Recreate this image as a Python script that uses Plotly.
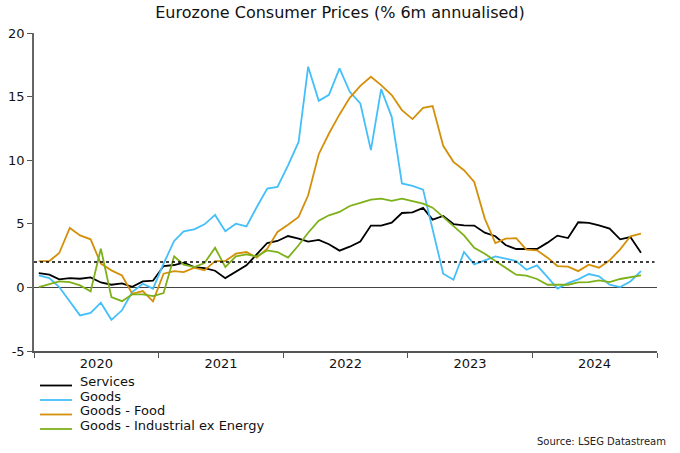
import plotly.graph_objects as go
import pandas as pd

# ---- data ----
months = pd.date_range("2020-01-01", periods=59, freq="MS") + pd.Timedelta(days=14)
dates = [d.strftime("%Y-%m-%d") for d in months]

series_names = ["Services", "Goods", "Goods - Food", "Goods - Industrial ex Energy"]

services = [1.13, 1.0, 0.63, 0.73, 0.68, 0.79, 0.39, 0.21, 0.31, 0.05, 0.47, 0.53,
            1.68, 1.76, 1.94, 1.6, 1.52, 1.31, 0.73, 1.26, 1.73, 2.6, 3.49, 3.65,
            4.04, 3.83, 3.6, 3.73, 3.39, 2.89, 3.2, 3.6, 4.86, 4.86, 5.09, 5.85,
            5.9, 6.25, 5.33, 5.62, 4.98, 4.88, 4.86, 4.3, 4.02, 3.33, 3.02, 3.02,
            3.02, 3.52, 4.07, 3.88, 5.12, 5.07, 4.88, 4.62, 3.78, 3.96, 2.73]

goods = [0.94, 0.73, 0.03, -1.08, -2.2, -2.0, -1.2, -2.55, -1.8, -0.37, 0.29, -0.1,
         1.87, 3.65, 4.41, 4.57, 4.96, 5.7, 4.41, 5.01, 4.8, 6.3, 7.77, 7.9,
         9.6, 11.44, 17.35, 14.67, 15.14, 17.22, 15.38, 14.46, 10.79, 15.59, 13.41, 8.17,
         7.98, 7.69, 4.5, 1.08, 0.6, 2.78, 1.81, 2.13, 2.44, 2.26, 2.07, 1.39,
         1.73, 0.8, -0.1, 0.34, 0.63, 1.05, 0.87, 0.21, 0.03, 0.47, 1.28]

food = [2.07, 2.07, 2.7, 4.67, 4.09, 3.78, 1.87, 1.34, 0.94, -0.5, -0.29, -1.1,
        1.08, 1.28, 1.2, 1.55, 1.34, 2.07, 2.07, 2.65, 2.78, 2.34, 3.05, 4.36,
        4.93, 5.54, 7.24, 10.47, 12.1, 13.6, 14.9, 15.85, 16.56, 15.9, 15.12, 13.94,
        13.23, 14.12, 14.25, 11.13, 9.87, 9.21, 8.29, 5.41, 3.49, 3.83, 3.88, 2.97,
        2.91, 2.34, 1.68, 1.63, 1.28, 1.79, 1.55, 2.13, 2.99, 4.02, 4.23]

industrial = [0.03, 0.24, 0.47, 0.42, 0.16, -0.31, 3.05, -0.76, -1.08, -0.55, -0.55, -0.68,
              -0.45, 2.44, 1.79, 1.6, 1.92, 3.12, 1.6, 2.44, 2.6, 2.44, 2.91, 2.78,
              2.34, 3.31, 4.3, 5.25, 5.67, 5.93, 6.4, 6.64, 6.9, 6.98, 6.8, 6.98,
              6.8, 6.59, 6.27, 5.54, 4.88, 4.09, 3.12, 2.65, 2.07, 1.52, 1.0, 0.92,
              0.66, 0.21, 0.21, 0.21, 0.39, 0.42, 0.55, 0.42, 0.66, 0.79, 0.94]

target_level = 2
y_ticks = [-5, 0, 5, 10, 15, 20]

colors = ["#000000", "#45BFFA", "#D4900A", "#7DB019"]
FONT = "DejaVu Sans"

# ---- figure ----
W, H = 680, 453
ML, MR, MT, MB = 34, 23, 33, 102
PW, PH = W - ML - MR, H - MT - MB

fig = go.Figure()
for name, vals, col in zip(series_names, [services, goods, food, industrial], colors):
    fig.add_trace(go.Scatter(x=dates, y=vals, name=name, mode="lines",
                             line=dict(color=col, width=1.8), showlegend=False))

# dotted reference line at 2%
fig.add_shape(type="line", xref="paper", yref="y", x0=0, x1=0.996,
              y0=target_level, y1=target_level,
              line=dict(color="#000000", width=1.5, dash="dot"))

# manual legend
def px_to_paper_x(px):
    return (px - ML) / PW

def px_to_paper_y(py):
    return (H - MB - py) / PH

row_y = [381.5, 396, 410.5, 425]
for name, col, ry in zip(series_names, colors, row_y):
    fig.add_shape(type="line", xref="paper", yref="paper",
                  x0=px_to_paper_x(40), x1=px_to_paper_x(72),
                  y0=px_to_paper_y(ry + 4), y1=px_to_paper_y(ry + 4),
                  line=dict(color=col, width=1.8))
    fig.add_annotation(text=name, xref="paper", yref="paper",
                       x=px_to_paper_x(79), y=px_to_paper_y(ry),
                       xanchor="left", yanchor="middle", showarrow=False,
                       borderpad=0,
                       font=dict(family=FONT, size=13, color="#111111"))

fig.add_annotation(text="Source: LSEG Datastream", xref="paper", yref="paper",
                   x=px_to_paper_x(667), y=px_to_paper_y(441),
                   xanchor="right", yanchor="middle", showarrow=False,
                   borderpad=0,
                   font=dict(family=FONT, size=10, color="#222222"))

fig.update_layout(
    width=W, height=H,
    margin=dict(l=ML, r=MR, t=MT, b=MB, autoexpand=False),
    paper_bgcolor="white", plot_bgcolor="white",
    title=dict(text="Eurozone Consumer Prices (% 6m annualised)",
               x=0.5, xanchor="center", y=1 - 12 / H, yanchor="middle",
               automargin=False,
               font=dict(family=FONT, size=16, color="#111111")),
    font=dict(family=FONT, size=13, color="#111111"),
)

fig.update_xaxes(
    type="date", range=["2020-01-01", "2025-01-01"],
    tick0="2020-01-01", dtick="M12", tickformat="%Y", ticklabelmode="period",
    showline=True, linecolor="#555555", linewidth=1.5,
    ticks="outside", ticklen=5, tickcolor="#555555", tickwidth=1.2,
    ticklabelstandoff=-5,
    showgrid=False, zeroline=False, automargin=False,
    tickfont=dict(family=FONT, size=13, color="#111111"),
)
fig.update_yaxes(
    range=[-5, 20], tickvals=y_ticks, ticktext=[str(v) for v in y_ticks],
    showline=True, linecolor="#666666", linewidth=1.5,
    ticks="outside", ticklen=5, tickcolor="#555555", tickwidth=1.2,
    showgrid=False, zeroline=True, zerolinecolor="#444444", zerolinewidth=1.3,
    automargin=False,
    tickfont=dict(family=FONT, size=13, color="#111111"),
)

fig.write_html("out.html", config={"displayModeBar": False},
               post_script="document.body.style.margin='0';document.body.style.overflow='hidden';")
